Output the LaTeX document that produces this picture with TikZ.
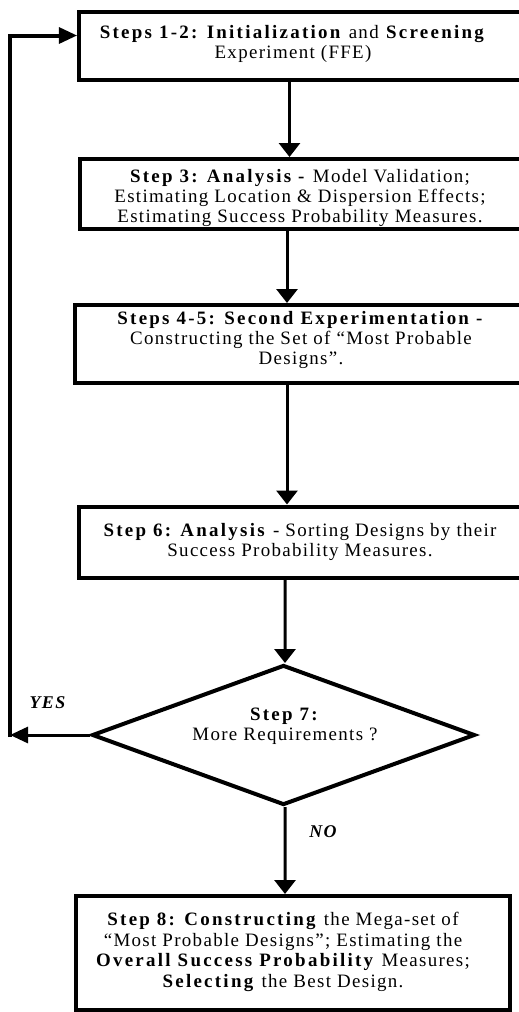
\documentclass[tikz,border=0pt]{standalone}
\usepackage{fontspec}
\setmainfont{Liberation Serif}[LetterSpace=7,BoldFeatures={LetterSpace=12},BoldItalicFeatures={LetterSpace=8}]
\usetikzlibrary{shapes.geometric,arrows.meta}

\begin{document}
\begin{tikzpicture}[x=1bp, y=-1bp]
	\tikzstyle{stepbox} = [rectangle, draw=black, line width=4bp, inner sep=0pt]
	\tikzstyle{decision} = [diamond, draw=black, line width=4bp, inner sep=0pt]
	\tikzstyle{steptext} = [align=center, inner sep=0pt, font=\fontsize{19}{20.5}\selectfont]
	\tikzstyle{answer} = [inner sep=0pt, font=\fontsize{18}{20}\selectfont\bfseries\itshape]
	\tikzstyle{flow} = [line width=3bp, -{Triangle[length=14bp,width=21bp]}]
	\tikzstyle{loopflow} = [line width=3bp, -{Triangle[length=18bp,width=16bp]}]

	\useasboundingbox (0,0) rectangle (519,1012);
	\clip (0,0) rectangle (519,1012);

%------------------------------------------------------------
	\node[stepbox, minimum width=462bp, minimum height=68bp] (b1) at (310,46) {};
	\node[steptext] (t1) at (293,44) {\textbf{Steps 1-2: Initialization} and \textbf{Screening}\\ Experiment (FFE)};

	\node[stepbox, minimum width=460bp, minimum height=70bp] (b2) at (310,194) {};
	\node[steptext] (t2) at (300,198) {\textbf{Step 3: Analysis -} Model Validation;\\ Estimating Location \& Dispersion Effects;\\ Estimating Success Probability Measures.};

	\node[stepbox, minimum width=469bp, minimum height=77.5bp] (b3) at (310,343.75) {};
	\node[steptext] (t3) at (301,340) {\textbf{Steps 4-5: Second Experimentation -}\\ Constructing the Set of “Most Probable\\ Designs”.};

	\node[stepbox, minimum width=462bp, minimum height=71bp] (b4) at (310,542) {};
	\node[steptext] (t4) at (300,542) {\textbf{Step 6: Analysis} - Sorting Designs by their\\ Success Probability Measures.};

%------------------------------------------------------------
	\node[decision, minimum width=383bp, minimum height=140bp] (d7) at (283.5,735) {};
	\node[steptext] (t7) at (285,726) {\textbf{Step 7:}\\ More Requirements ?};

	\node[stepbox, minimum width=434bp, minimum height=114bp] (b5) at (293,953) {};
	\node[steptext] (t5) at (283,952) {\textbf{Step 8: Constructing} the Mega-set of\\ “Most Probable Designs”; Estimating the\\ \textbf{Overall Success Probability} Measures;\\ \textbf{Selecting} the Best Design.};

	\node[answer] (yes) at (47.5,703) {YES};
	\node[answer] (no) at (323,832) {NO};

%------------------------------------------------------------
	\draw[flow] ([xshift=-20.5bp]b1.south) -- ([xshift=-20.5bp]b2.north);
	\draw[flow] ([xshift=-23bp]b2.south) -- ([xshift=-23bp]b3.north);
	\draw[flow] ([xshift=-23bp]b3.south) -- ([xshift=-23bp]b4.north);
	\draw[flow] ([xshift=-25bp]b4.south) -- ([xshift=1.5bp]d7.north);
	\draw[flow] ([xshift=1.5bp]d7.south) -- ([xshift=-8bp]b5.north);

	\coordinate (c1) at (10,737);
	\coordinate (c2) at (10,35.5);
	\draw[loopflow] (d7.west) -- (d7.west -| c1);
	\draw[line width=4bp] (c1) -- (c2) -- ([xshift=-18bp]b1.west |- c2);
	\draw[loopflow] (c2) -- (b1.west |- c2);
\end{tikzpicture}
\end{document}
